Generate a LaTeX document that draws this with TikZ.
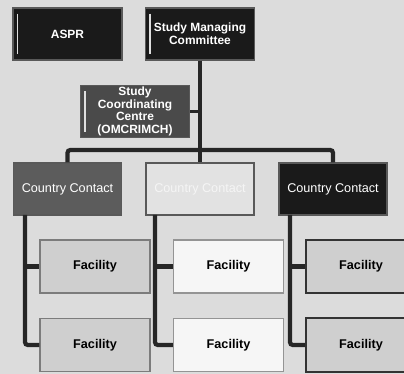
\documentclass[tikz,border=0pt]{standalone}
\usepackage{fontspec}
\setmainfont{Liberation Sans}
\usepackage{tikz}

\definecolor{paper}{HTML}{DCDCDC}
\definecolor{boxblack}{HTML}{1A1A1A}
\definecolor{boxgrey}{HTML}{4A4A4A}
\definecolor{ccgrey}{HTML}{5C5C5C}
\definecolor{cclight}{HTML}{E2E2E2}
\definecolor{facgrey}{HTML}{CFCFCF}
\definecolor{facwhite}{HTML}{F6F6F6}

\tikzset{
  shine/.style={path picture={
    \draw[white!75!gray, line width=1pt]
      ([xshift=3pt,yshift=-4pt]path picture bounding box.north west) --
      ([xshift=3pt,yshift=4pt]path picture bounding box.south west);}},
  topbox/.style={draw=gray!70!black, line width=1pt, fill=#1, text=white,
    minimum width=2.72cm, minimum height=1.3cm, inner sep=1pt, align=center,
    font=\bfseries\fontsize{8.5}{9}\selectfont, shine},
  ccbox/.style={draw=gray!70!black, line width=1pt, fill=#1, text=white,
    minimum width=2.7cm, minimum height=1.3cm, inner sep=1pt,
    font=\fontsize{9}{10}\selectfont},
  facbox/.style={draw=#1!60!black, line width=1pt, fill=#1,
    minimum width=2.75cm, minimum height=1.33cm, inner sep=1pt,
    font=\bfseries\fontsize{9}{10}\selectfont},
  link/.style={draw=black!85, line width=3pt, rounded corners=2pt}
}

\begin{document}
\begin{tikzpicture}[x=0.025cm,y=-0.025cm]
\fill[paper] (0,0) rectangle (404,374);
\useasboundingbox (0,0) rectangle (404,374);

% top row
\node[topbox=boxblack](aspr) at (67.5,34) {ASPR};
\node[topbox=boxblack](smc) at (200,34) {Study Managing\\Committee};
\node[topbox=boxgrey](scc) at (135,111.5) {Study\\Coordinating\\Centre\\(OMCRIMCH)};

% country contacts
\node[ccbox=ccgrey](cc1) at (67.5,189) {Country Contact};
\node[ccbox=cclight, text=white!92!gray](cc2) at (200,189) {Country Contact};
\node[ccbox=boxblack](cc3) at (333,189) {Country Contact};

% facilities
\node[facbox=facgrey](f11) at (95,266.5) {Facility};
\node[facbox=facgrey](f12) at (95,345) {Facility};
\node[facbox=facwhite](f21) at (228.5,266.5) {Facility};
\node[facbox=facwhite](f22) at (228.5,345) {Facility};
\node[facbox=facgrey, draw=black!80, line width=1.3pt](f31) at (361,266.5) {Facility};
\node[facbox=facgrey, draw=black!80, line width=1.3pt](f32) at (361,345) {Facility};

\coordinate (bar) at (200,150);
\coordinate (t1) at (25,215);
\coordinate (t2) at (155,215);
\coordinate (t3) at (290,215);

\path (smc) edge [link] (cc2);
\path (scc.east) edge [link, line width=2pt] (scc.east -| smc.south);
\draw[link] (cc1.north) |- (bar) -| (cc3.north);

\draw[link] (t1) |- (f12);
\draw[link] (t1 |- f11) -- (f11);
\draw[link] (t2) |- (f22);
\draw[link] (t2 |- f21) -- (f21);
\draw[link] (t3) |- (f32);
\draw[link] (t3 |- f31) -- (f31);
\end{tikzpicture}
\end{document}
